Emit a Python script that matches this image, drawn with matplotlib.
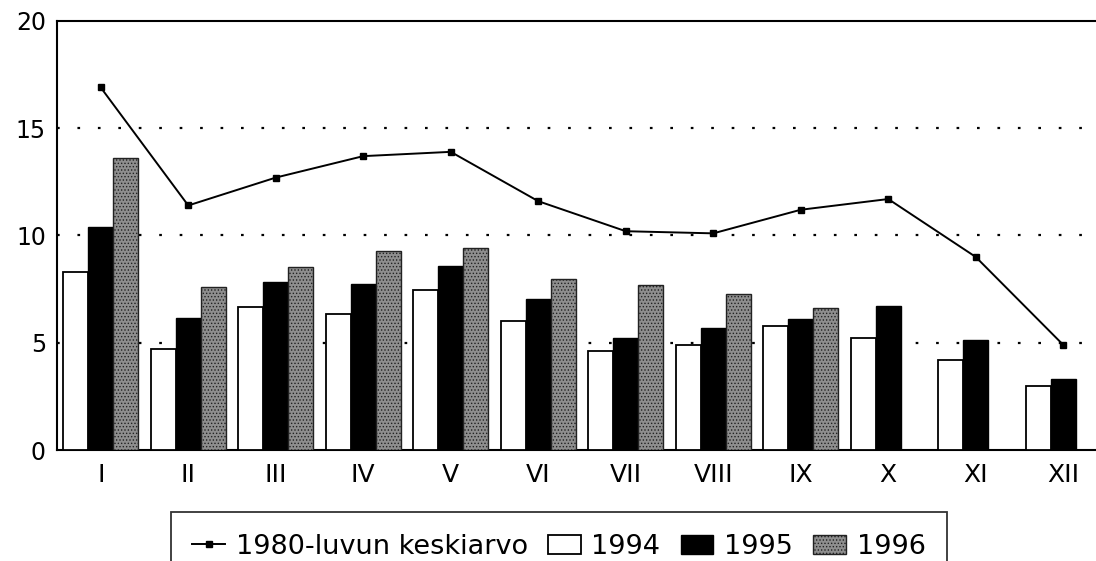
import matplotlib
matplotlib.use("Agg")
import matplotlib.pyplot as plt
import numpy as np

# kuukaudet
months = ['I', 'II', 'III', 'IV', 'V', 'VI', 'VII', 'VIII', 'IX', 'X', 'XI', 'XII']
avg_1980s = [16.9, 11.4, 12.7, 13.7, 13.9, 11.6, 10.2, 10.1, 11.2, 11.7, 9.0, 4.9]
y1994 = [8.3, 4.7, 6.65, 6.35, 7.45, 6.0, 4.6, 4.9, 5.8, 5.2, 4.2, 3.0]
y1995 = [10.4, 6.15, 7.85, 7.75, 8.6, 7.05, 5.2, 5.7, 6.1, 6.7, 5.15, 3.3]
y1996 = [13.6, 7.6, 8.55, 9.3, 9.4, 7.95, 7.7, 7.25, 6.6]

plt.rcParams['font.family'] = ['DejaVu Sans']
plt.rcParams['hatch.color'] = '#444444'
plt.rcParams['hatch.linewidth'] = 0.6

fig = plt.figure(figsize=(10.96, 5.61), dpi=100)
ax = fig.add_axes([57 / 1096, 111 / 561, 1050 / 1096, 429 / 561])

x = np.arange(len(months))
w = 0.286

ax.plot(x, avg_1980s, color='black', linewidth=1.4, marker='s', markersize=5,
        label='1980-luvun keskiarvo', zorder=4)
ax.bar(x - w, y1994, w, color='white', edgecolor='black', linewidth=1.3, label='1994', zorder=3)
ax.bar(x, y1995, w, color='black', edgecolor='black', linewidth=1.0, label='1995', zorder=3)
ax.bar(x[:len(y1996)] + w, y1996, w, color='#8e8e8e', edgecolor='#222222', linewidth=1.0,
       hatch='.....', label='1996', zorder=3)

ax.set_xlim(-0.5, 11.5)
ax.set_ylim(0, 20)
ax.set_yticks([0, 5, 10, 15, 20])
ax.set_xticks(x)
ax.set_xticklabels(months)
ax.tick_params(axis='x', length=0, labelsize=18, pad=9)
ax.tick_params(axis='y', length=0, labelsize=17, pad=8)

for v in [5, 10, 15]:
    ax.axhline(v, color='black', linestyle=(0, (1.2, 8)), linewidth=1.6, zorder=1)

for s in ['left', 'top', 'bottom']:
    ax.spines[s].set_linewidth(1.5)
ax.spines['right'].set_visible(False)

leg = fig.legend(ncol=4, loc='upper center', bbox_to_anchor=(559 / 1096, 49 / 561),
                 borderaxespad=0, fontsize=19.5, frameon=True, fancybox=False,
                 edgecolor='black', handlelength=1.2, handletextpad=0.4,
                 columnspacing=0.75, borderpad=0.8)
leg.get_frame().set_linewidth(1.3)

fig.savefig('out.png', dpi=100)
